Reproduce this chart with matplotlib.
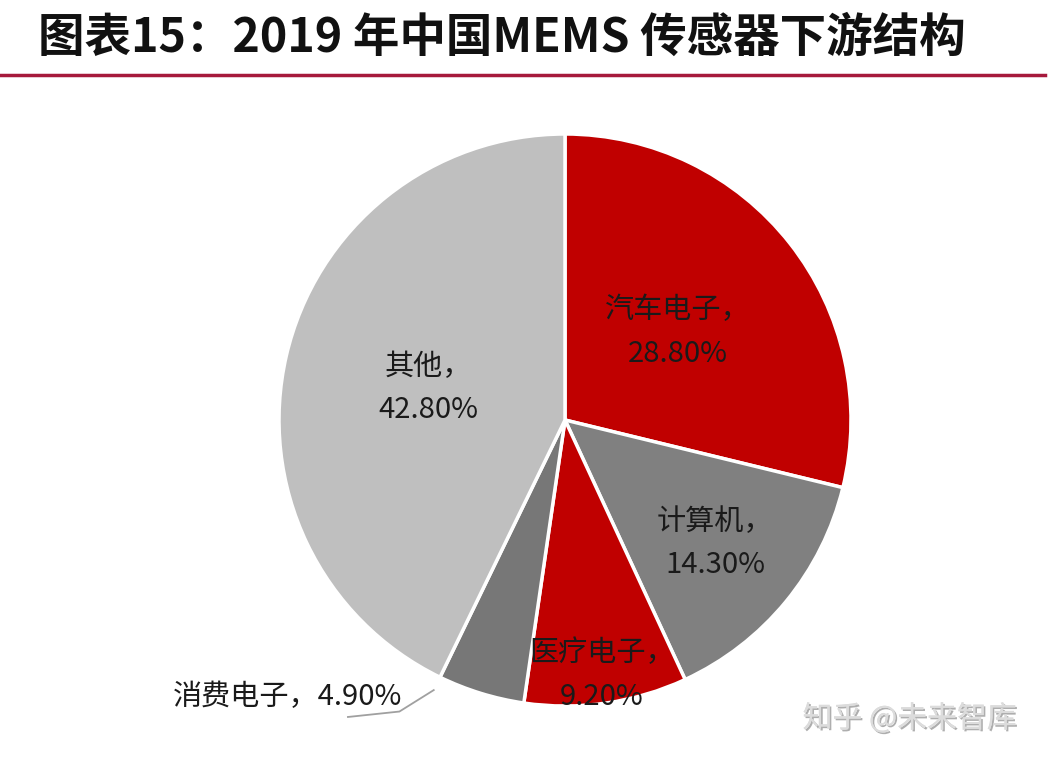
import matplotlib.pyplot as plt
import matplotlib.patheffects as pe
import numpy as np

plt.rcParams['font.family'] = ['Noto Sans CJK SC', 'DejaVu Sans']

# data
categories = ["汽车电子", "计算机", "医疗电子", "消费电子", "其他"]
shares = [28.80, 14.30, 9.20, 4.90, 42.80]
colors = ["#C00000", "#808080", "#C00000", "#777777", "#BFBFBF"]
label_dist = [0.50, 0.68, 0.90, None, 0.49]

fig = plt.figure(figsize=(10.48, 7.62), dpi=100)
fig.patch.set_facecolor("white")

# title and red rule
fig.text(0.036, 0.951, "图表15：2019 年中国MEMS 传感器下游结构", fontsize=33.5,
         fontweight="bold", color="#111111", ha="left", va="center")
fig.add_artist(plt.Line2D([0.0, 0.997], [0.902, 0.902], color="#A6193C", lw=2.5))

ax = fig.add_axes([279 / 1048, 56 / 762, 572 / 1048, 572 / 762])
wedges, _ = ax.pie(shares, colors=colors, startangle=90, counterclock=False,
                   wedgeprops=dict(edgecolor="white", linewidth=2.5))
ax.set_xlim(-1, 1)
ax.set_ylim(-1, 1)
ax.set_aspect("auto")
ax.axis("off")

for w, name, val, d in zip(wedges, categories, shares, label_dist):
    mid = np.deg2rad((w.theta1 + w.theta2) / 2)
    txt = f"{name}，\n{val:.2f}%"
    if d is not None:
        ax.text(d * np.cos(mid), d * np.sin(mid), txt, ha="center", va="center",
                fontsize=21, color="#1a1a1a", linespacing=1.6)
    else:
        # outside label with leader line from the wedge's lower-left edge
        a = np.deg2rad(w.theta1)
        x0, y0 = 1.05 * np.cos(a), 1.05 * np.sin(a)
        ax.plot([x0, x0 - 0.12, x0 - 0.30], [y0, y0 - 0.075, y0 - 0.094],
                color="#A0A0A0", lw=1.3, clip_on=False)
        ax.text(x0 - 0.11, y0 - 0.025, f"{name}，{val:.2f}%", ha="right", va="center",
                fontsize=21, color="#1a1a1a")

# watermark
fig.text(0.868, 0.057, "知乎 @未来智库", fontsize=21.5, color="#DCDCDC", ha="center",
         va="center",
         path_effects=[pe.withSimplePatchShadow(offset=(1.2, -1.2), shadow_rgbFace="#9a9a9a", alpha=0.8),
                       pe.Normal()])

fig.savefig("out.png", dpi=100, facecolor="white")
